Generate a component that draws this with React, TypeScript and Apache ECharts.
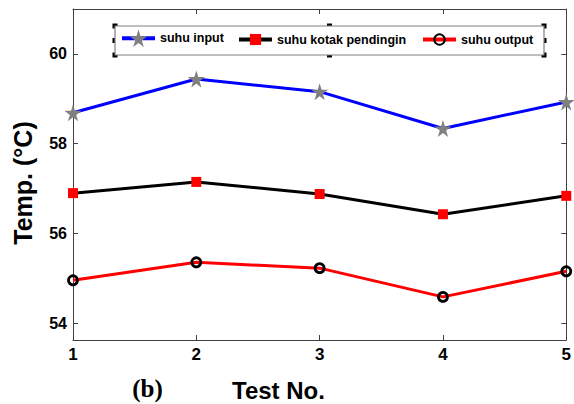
import React, { useEffect, useRef } from "react";
import * as echarts from "echarts";

const testNo = [1, 2, 3, 4, 5];
const suhuInput = [58.69, 59.44, 59.16, 58.34, 58.93];
const suhuKotak = [56.9, 57.15, 56.88, 56.43, 56.84];
const suhuOutput = [54.96, 55.36, 55.23, 54.59, 55.16];
const yTicks = [54, 56, 58, 60];
const seriesNames = ["suhu input", "suhu kotak pendingin", "suhu output"];

const STAR = "path://M50,0 L61,35 L98,35 L68,57 L79,91 L50,70 L21,91 L32,57 L2,35 L39,35 Z";

export default function App() {
  const ref = useRef<HTMLDivElement>(null);
  useEffect(() => {
    if (!ref.current) return;
    const chart = echarts.init(ref.current, null, { renderer: "svg" });
    const pair = (arr: number[]) => testNo.map((x, i) => [x, arr[i]]);
    const axisColor = "#404040";
    const legendText = { fontFamily: "Arial", fontWeight: "bold", fontSize: 12.5, color: "#000" };
    const handles: any[] = [];
    const hx = [115, 329.5, 544];
    const hy = [26, 40.5, 55];
    hx.forEach((x) =>
      hy.forEach((y) => {
        if (x === 329.5 && y === 40.5) return;
        handles.push({ type: "rect", shape: { x: x - 2.5, y: y - 2.5, width: 5, height: 5 }, style: { fill: "#000" } });
      })
    );
    const legendItem = (left: number, name: string, ih: number) => ({
      left,
      top: 40.5 - Math.max(ih, 15) / 2,
      itemWidth: 33,
      itemHeight: ih,
      textStyle: legendText,
      z: 20,
      padding: 0,
      lineStyle: { width: 4 },
      data: [name],
    });
    chart.setOption({
      animation: false,
      grid: { left: 73, right: 6, top: 9, bottom: 64 },
      xAxis: [
        {
          type: "value",
          min: 1,
          max: 5,
          interval: 1,
          axisLine: { show: true, lineStyle: { color: axisColor, width: 1 } },
          axisTick: { show: true, inside: true, length: 5, lineStyle: { color: axisColor } },
          splitLine: { show: false },
          axisLabel: { fontFamily: "Arial", fontWeight: "bold", fontSize: 17, color: "#000", margin: 6 },
        },
        {
          type: "value",
          position: "top",
          min: 1,
          max: 5,
          interval: 1,
          axisLine: { show: true, onZero: false, lineStyle: { color: axisColor, width: 1 } },
          axisTick: { show: true, inside: true, length: 5, lineStyle: { color: axisColor } },
          splitLine: { show: false },
          axisLabel: { show: false },
        },
      ],
      yAxis: [
        {
          type: "value",
          min: 53.63,
          max: 61.0,
          axisLine: { show: true, onZero: false, lineStyle: { color: axisColor, width: 1 } },
          axisTick: { show: true, inside: true, length: 5, customValues: yTicks, lineStyle: { color: axisColor } },
          splitLine: { show: false },
          axisLabel: { customValues: yTicks, fontFamily: "Arial", fontWeight: "bold", fontSize: 16, color: "#000", margin: 6 },
        },
        {
          type: "value",
          position: "right",
          min: 53.63,
          max: 61.0,
          axisLine: { show: true, onZero: false, lineStyle: { color: axisColor, width: 1 } },
          axisTick: { show: true, inside: true, length: 5, customValues: yTicks, lineStyle: { color: axisColor } },
          splitLine: { show: false },
          axisLabel: { show: false, customValues: yTicks },
        },
      ],
      legend: [
        legendItem(120, seriesNames[0], 22),
        legendItem(237, seriesNames[1], 14),
        legendItem(421, seriesNames[2], 13),
      ],
      graphic: {
        z: 1,
        elements: [
          {
            type: "rect",
            shape: { x: 115, y: 26, width: 429, height: 29 },
            style: { fill: "#fff", stroke: "#808080", lineWidth: 1.2 },
            z: 1,
          },
          ...handles,
          {
            type: "text",
            x: 23,
            y: 183,
            rotation: Math.PI / 2,
            style: {
              text: "Temp. (°C)",
              fontFamily: "Arial",
              fontWeight: "bold",
              fontSize: 25,
              fill: "#000",
              align: "center",
              verticalAlign: "middle",
            },
          },
          {
            type: "text",
            x: 278.5,
            y: 390,
            style: {
              text: "Test No.",
              fontFamily: "Arial",
              fontWeight: "bold",
              fontSize: 24,
              fill: "#000",
              align: "center",
              verticalAlign: "middle",
            },
          },
          {
            type: "text",
            x: 147.5,
            y: 388,
            style: {
              text: "(b)",
              fontFamily: "Liberation Serif",
              fontWeight: "bold",
              fontSize: 25,
              fill: "#000",
              align: "center",
              verticalAlign: "middle",
            },
          },
        ],
      },
      series: [
        {
          name: seriesNames[0],
          type: "line",
          data: pair(suhuInput),
          symbol: STAR,
          symbolSize: 17,
          lineStyle: { color: "#0000ff", width: 3 },
          itemStyle: { color: "#808080" },
          z: 3,
        },
        {
          name: seriesNames[1],
          type: "line",
          data: pair(suhuKotak),
          symbol: "rect",
          symbolSize: 10,
          lineStyle: { color: "#000000", width: 3 },
          itemStyle: { color: "#ff0000" },
          z: 3,
        },
        {
          name: seriesNames[2],
          type: "line",
          data: pair(suhuOutput),
          symbol: "circle",
          symbolSize: 9,
          lineStyle: { color: "#ff0000", width: 3 },
          itemStyle: { color: "transparent", borderColor: "#000", borderWidth: 2.8 },
          z: 3,
        },
      ],
    });
    return () => chart.dispose();
  }, []);
  return <div ref={ref} style={{ width: 574, height: 404, position: "absolute", left: 0, top: 0, background: "#fff" }} />;
}
